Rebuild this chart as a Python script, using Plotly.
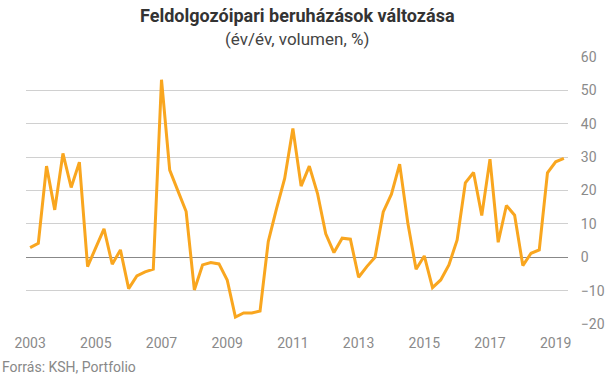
import plotly.graph_objects as go

start_year = 2003
values = [2.9, 4.2, 27.3, 14.2, 31.1, 20.9, 28.5, -2.8,
          2.9, 8.5, -2.1, 2.2, -9.4, -5.6, -4.4, -3.6,
          53.2, 26.1, 19.9, 13.7, -9.8, -2.3, -1.6, -2.0,
          -6.8, -17.9, -16.7, -16.7, -16.1, 4.7, 14.5, 23.6,
          38.6, 21.3, 27.3, 19.1, 7.0, 1.4, 5.7, 5.4,
          -6.0, -2.8, 0.0, 13.6, 18.9, 27.9, 10.2, -3.6,
          0.4, -9.1, -6.8, -2.3, 5.2, 22.3, 25.4, 12.5,
          29.4, 4.5, 15.5, 12.6, -2.5, 1.2, 2.2, 25.3,
          28.6, 29.6]
x = [start_year + i / 4 for i in range(len(values))]
x_ticks = list(range(2003, 2020, 2))
y_ticks = list(range(-20, 61, 10))

title = "Feldolgozóipari beruházások változása"
subtitle = "(év/év, volumen, %)"
source = "Forrás: KSH, Portfolio"

fig = go.Figure()
fig.add_trace(go.Scatter(x=x, y=values, mode="lines",
                         line=dict(color="#F9A61F", width=3), hoverinfo="skip"))

fig.update_layout(
    width=605, height=378,
    margin=dict(l=26, r=37, t=57, b=54, autoexpand=False),
    paper_bgcolor="white", plot_bgcolor="white",
    showlegend=False,
    font=dict(family="Roboto", color="#888888"),
    xaxis=dict(range=[2002.875, 2019.375], tickvals=x_ticks,
               ticktext=[str(t) for t in x_ticks], showgrid=False,
               zeroline=False, showline=False, ticks="outside",
               ticklen=6, tickcolor="rgba(0,0,0,0)", automargin=False,
               tickfont=dict(size=14, color="#8a8a8a")),
    yaxis=dict(range=[-20, 60], tickvals=y_ticks, side="right",
               showgrid=True, gridcolor="#d0d0d0", gridwidth=1,
               zeroline=True, zerolinecolor="#888888", zerolinewidth=1,
               ticks="outside", ticklen=9, tickcolor="rgba(0,0,0,0)",
               automargin=False,
               tickfont=dict(size=14, color="#8a8a8a")),
    annotations=[
        dict(text="<b>" + title + "</b>", xref="paper", yref="paper",
             x=0.5, y=1, yshift=42, xanchor="center", yanchor="middle",
             showarrow=False, font=dict(size=18, color="#333333", family="Roboto")),
        dict(text=subtitle, xref="paper", yref="paper",
             x=0.5, y=1, yshift=18, xanchor="center", yanchor="middle",
             showarrow=False, font=dict(size=17, color="#444444", family="Roboto")),
        dict(text=source, xref="paper", yref="paper",
             x=0, xshift=-26, y=0, yshift=-43, xanchor="left", yanchor="middle",
             showarrow=False, font=dict(size=14, color="#888888", family="Roboto")),
    ],
)
fig.write_html("out.html", config={"displayModeBar": False},
               post_script="document.body.style.margin='0';document.body.style.padding='0';")
